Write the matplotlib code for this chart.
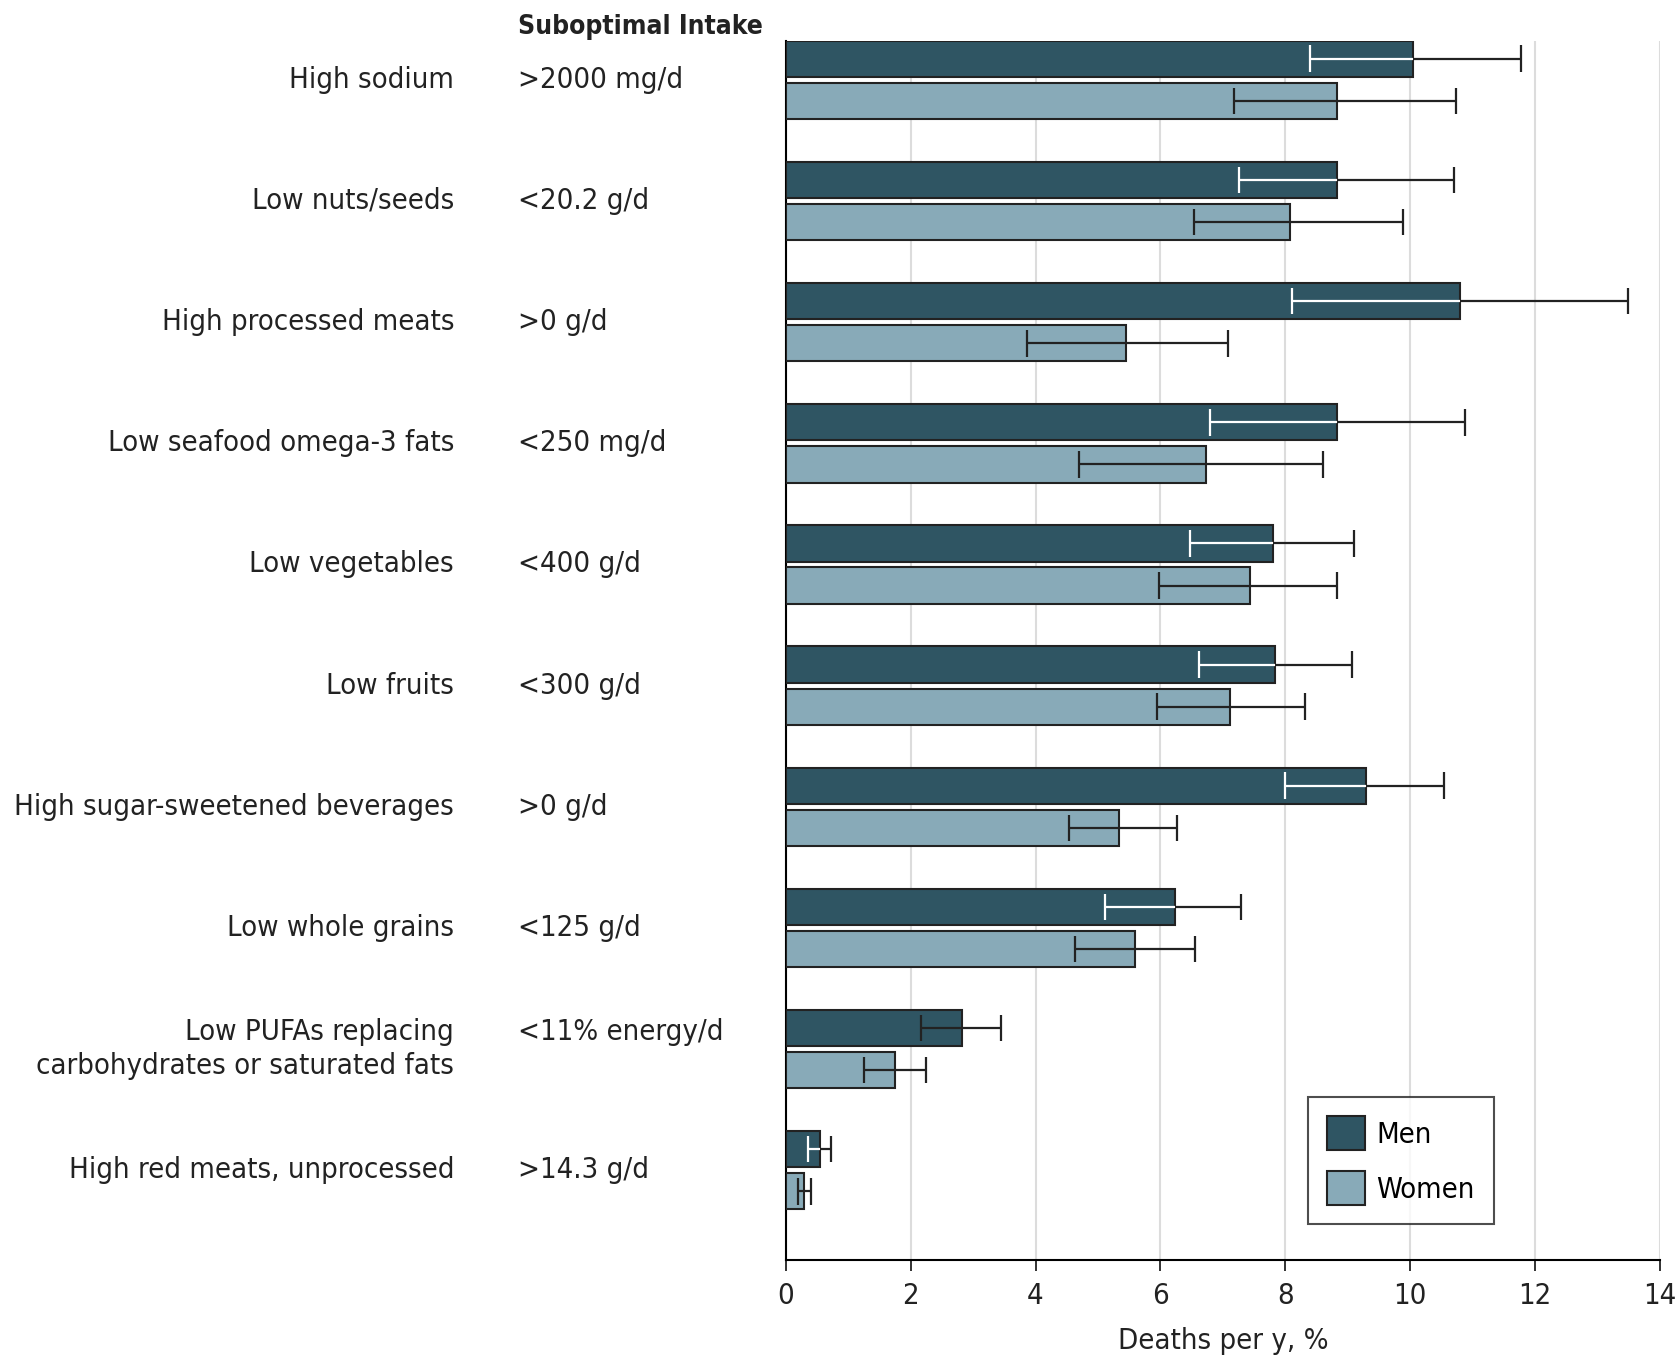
"""Suboptimal intake deaths chart"""

import numpy as np
import matplotlib
matplotlib.use("Agg")
import matplotlib.pyplot as plt
from matplotlib.patches import Patch
import matplotlib.transforms as mtransforms

plt.rcParams['font.family'] = ['DejaVu Sans']
plt.rcParams['font.stretch'] = 'condensed'

# data
categories = ["High sodium", "Low nuts/seeds", "High processed meats",
              "Low seafood omega-3 fats", "Low vegetables", "Low fruits",
              "High sugar-sweetened beverages", "Low whole grains",
              "Low PUFAs replacing\ncarbohydrates or saturated fats",
              "High red meats, unprocessed"]
intake = [">2000 mg/d", "<20.2 g/d", ">0 g/d", "<250 mg/d", "<400 g/d",
          "<300 g/d", ">0 g/d", "<125 g/d", "<11% energy/d\n ", ">14.3 g/d"]

men = np.array([10.04, 8.82, 10.79, 8.82, 7.80, 7.83, 9.29, 6.24, 2.82, 0.55])
men_low = np.array([8.40, 7.26, 8.11, 6.80, 6.48, 6.62, 8.00, 5.12, 2.17, 0.35])
men_high = np.array([11.77, 10.70, 13.48, 10.88, 9.10, 9.07, 10.54, 7.29, 3.45, 0.72])

women = np.array([8.82, 8.08, 5.45, 6.73, 7.44, 7.12, 5.34, 5.59, 1.75, 0.29])
women_low = np.array([7.18, 6.54, 3.86, 4.70, 5.98, 5.94, 4.53, 4.63, 1.25, 0.20])
women_high = np.array([10.74, 9.88, 7.08, 8.61, 8.82, 8.32, 6.26, 6.55, 2.25, 0.40])

xticks = [0, 2, 4, 6, 8, 10, 12, 14]

# style
MEN_COLOR = "#2f5563"
WOMEN_COLOR = "#88aab8"
EDGE = "#222222"
FS = 21

fig = plt.figure(figsize=(16.79, 13.57), dpi=100)
ax = fig.add_axes([0.468, 0.0713, 0.5207, 0.8987])

y = np.arange(len(categories))
off = 0.174
h = 0.30
cap = 0.11

ax.barh(y - off, men, height=h, color=MEN_COLOR, edgecolor=EDGE, linewidth=1.5, zorder=3)
ax.barh(y + off, women, height=h, color=WOMEN_COLOR, edgecolor=EDGE, linewidth=1.5, zorder=3)

# men error bars: part inside bar drawn white (except PUFA row)
inner = ["white"] * len(categories)
inner[8] = EDGE
for i in range(len(categories)):
    yy = y[i] - off
    ax.hlines(yy, men_low[i], men[i], color=inner[i], lw=1.6, zorder=4)
    ax.hlines(yy, men[i], men_high[i], color=EDGE, lw=1.6, zorder=4)
    ax.vlines(men_low[i], yy - cap, yy + cap, color=inner[i], lw=1.6, zorder=4)
    ax.vlines(men_high[i], yy - cap, yy + cap, color=EDGE, lw=1.6, zorder=4)

for i in range(len(categories)):
    yy = y[i] + off
    ax.hlines(yy, women_low[i], women_high[i], color=EDGE, lw=1.6, zorder=4)
    ax.vlines([women_low[i], women_high[i]], yy - cap, yy + cap, color=EDGE, lw=1.6, zorder=4)

ax.set_xlim(0, 14)
ax.set_ylim(9.743, -0.323)
ax.set_xticks(xticks)
ax.set_xticklabels([str(t) for t in xticks], fontsize=FS)
ax.set_yticks([])
ax.tick_params(axis='x', length=8, width=1.3, pad=8, colors="#222222")
ax.grid(axis='x', color="#dcdcdc", lw=1.5, zorder=0)
ax.set_axisbelow(True)
for s in ["top", "right"]:
    ax.spines[s].set_visible(False)
ax.spines["left"].set_linewidth(1.5)
ax.spines["bottom"].set_linewidth(1.5)
ax.set_xlabel("Deaths per y, %", fontsize=FS, labelpad=12, color="#222222")

# row labels
trans = mtransforms.blended_transform_factory(fig.transFigure, ax.transData)
for i in range(len(categories)):
    ax.text(0.2704, y[i], categories[i], transform=trans, ha='right', va='center',
            fontsize=FS, color="#222222", linespacing=1.3)
    ax.text(0.3085, y[i], intake[i], transform=trans, ha='left', va='center',
            fontsize=FS, color="#222222", linespacing=1.3)

fig.text(0.3085, 0.980, "Suboptimal Intake", ha='left', va='center',
         fontsize=19, fontweight='bold', color="#222222")

handles = [Patch(facecolor=MEN_COLOR, edgecolor=EDGE, linewidth=1.5, label="Men"),
           Patch(facecolor=WOMEN_COLOR, edgecolor=EDGE, linewidth=1.5, label="Women")]
leg = ax.legend(handles=handles, loc='upper left', bbox_to_anchor=(0.597, 0.134),
                borderaxespad=0, fontsize=FS, fancybox=False, edgecolor="#222222",
                handlelength=1.3, handleheight=1.45, labelspacing=0.7,
                borderpad=0.65, handletextpad=0.4)
leg.get_frame().set_linewidth(1.5)

fig.savefig("out.png", dpi=100)
